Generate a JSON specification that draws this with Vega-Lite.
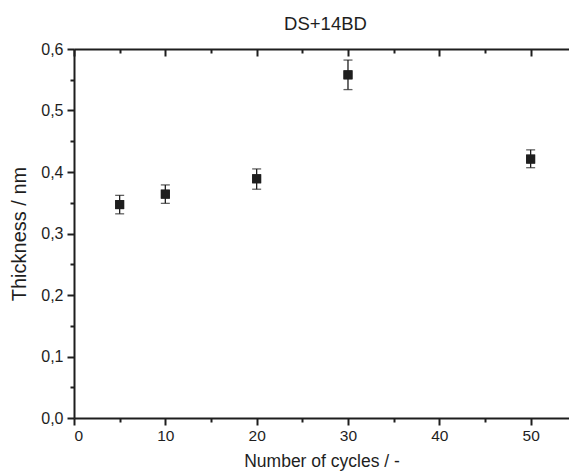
{
  "$schema": "https://vega.github.io/schema/vega-lite/v6.json",
  "width": 495,
  "height": 369,
  "autosize": {"type": "none"},
  "padding": {"left": 74, "top": 49, "right": 0, "bottom": 57},
  "background": "white",
  "config": {
    "view": {"stroke": null},
    "font": "Liberation Sans",
    "axis": {
      "domainColor": "#1e1e1e",
      "domainWidth": 2,
      "tickColor": "#1e1e1e",
      "tickWidth": 2,
      "labelColor": "#1e1e1e",
      "titleColor": "#1e1e1e",
      "labelFont": "Liberation Sans",
      "titleFont": "Liberation Sans",
      "labelFontSize": 16,
      "titleFontSize": 17,
      "titleFontWeight": "normal",
      "grid": false
    }
  },
  "title": {
    "text": "DS+14BD",
    "fontSize": 18.5,
    "font": "Liberation Sans",
    "fontWeight": "normal",
    "color": "#1e1e1e",
    "offset": 8,
    "dx": 4
  },
  "data": {
    "values": [
      {"cycles": 5, "thickness": 0.347, "low": 0.332, "high": 0.362},
      {"cycles": 10, "thickness": 0.364, "low": 0.349, "high": 0.379},
      {"cycles": 20, "thickness": 0.389, "low": 0.372, "high": 0.405},
      {"cycles": 30, "thickness": 0.558, "low": 0.534, "high": 0.582},
      {"cycles": 50, "thickness": 0.421, "low": 0.407, "high": 0.436}
    ]
  },
  "resolve": {"scale": {"x": "independent", "y": "independent"}, "axis": {"x": "independent", "y": "independent"}},
  "layer": [
    {
      "mark": {"type": "rule", "color": "#1e1e1e", "strokeWidth": 1.3},
      "encoding": {
        "x": {
          "field": "cycles",
          "type": "quantitative",
          "scale": {"domain": [0, 54.2], "nice": false, "zero": false},
          "axis": {
            "orient": "bottom",
            "title": "Number of cycles / -",
            "titleFontSize": 17.5,
            "titlePadding": 9,
            "values": [0, 10, 20, 30, 40, 50],
            "labelPadding": 3,
            "labelFontSize": 15.5,
            "tickSize": 7
          }
        },
        "y": {
          "field": "low",
          "type": "quantitative",
          "scale": {"domain": [0, 0.6], "nice": false, "zero": false},
          "axis": {
            "orient": "left",
            "title": "Thickness / nm",
            "titleFontSize": 20,
            "titlePadding": 11,
            "values": [0, 0.1, 0.2, 0.3, 0.4, 0.5, 0.6],
            "labelPadding": 4,
            "labelFontSize": 16,
            "labelExpr": "replace(format(datum.value, '.1f'), '.', ',')",
            "tickSize": 7
          }
        },
        "y2": {"field": "high"}
      }
    },
    {
      "mark": {"type": "tick", "color": "#1e1e1e", "orient": "horizontal", "size": 9, "thickness": 1.3},
      "encoding": {
        "x": {
          "field": "cycles",
          "type": "quantitative",
          "scale": {"domain": [0, 54.2], "nice": false, "zero": false},
          "axis": {
            "orient": "bottom",
            "title": null,
            "labels": false,
            "domain": false,
            "values": [5, 15, 25, 35, 45],
            "tickSize": 4
          }
        },
        "y": {
          "field": "low",
          "type": "quantitative",
          "scale": {"domain": [0, 0.6], "nice": false, "zero": false},
          "axis": {
            "orient": "left",
            "title": null,
            "labels": false,
            "domain": false,
            "values": [0.05, 0.15, 0.25, 0.35, 0.45, 0.55],
            "tickSize": 4
          }
        }
      }
    },
    {
      "mark": {"type": "tick", "color": "#1e1e1e", "orient": "horizontal", "size": 9, "thickness": 1.3},
      "encoding": {
        "x": {
          "field": "cycles",
          "type": "quantitative",
          "scale": {"domain": [0, 54.2], "nice": false, "zero": false},
          "axis": {
            "orient": "top",
            "title": null,
            "labels": false,
            "domain": false,
            "offset": -7,
            "values": [0, 10, 20, 30, 40, 50],
            "tickSize": 7
          }
        },
        "y": {
          "field": "high",
          "type": "quantitative",
          "scale": {"domain": [0, 0.6], "nice": false, "zero": false},
          "axis": null
        }
      }
    },
    {
      "mark": {"type": "square", "color": "#1e1e1e", "opacity": 1, "size": 81},
      "encoding": {
        "x": {
          "field": "cycles",
          "type": "quantitative",
          "scale": {"domain": [0, 54.2], "nice": false, "zero": false},
          "axis": {
            "orient": "top",
            "title": null,
            "labels": false,
            "domain": false,
            "offset": -4,
            "values": [5, 15, 25, 35, 45],
            "tickSize": 4
          }
        },
        "y": {
          "field": "thickness",
          "type": "quantitative",
          "scale": {"domain": [0, 0.6], "nice": false, "zero": false},
          "axis": null
        }
      }
    },
    {
      "mark": {"type": "square", "color": "#1e1e1e", "opacity": 1, "size": 81},
      "encoding": {
        "x": {
          "field": "cycles",
          "type": "quantitative",
          "scale": {"domain": [0, 54.2], "nice": false, "zero": false},
          "axis": {
            "orient": "top",
            "title": null,
            "labels": false,
            "ticks": false,
            "domain": true
          }
        },
        "y": {
          "field": "thickness",
          "type": "quantitative",
          "scale": {"domain": [0, 0.6], "nice": false, "zero": false},
          "axis": null
        }
      }
    }
  ]
}
